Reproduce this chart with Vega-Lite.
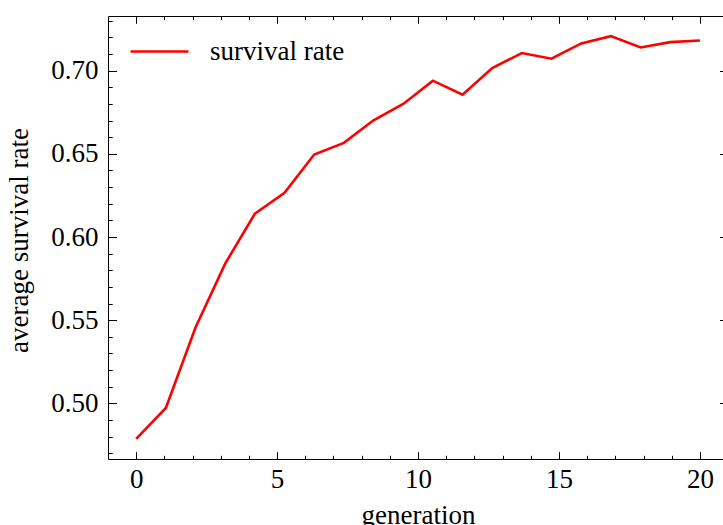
{
  "$schema": "https://vega.github.io/schema/vega-lite/v6.json",
  "width": 615,
  "height": 443,
  "autosize": {"type": "none"},
  "padding": {"left": 108, "top": 16, "right": 0, "bottom": 66},
  "background": "white",
  "config": {
    "view": {"stroke": null},
    "font": "Liberation Serif",
    "axis": {
      "labelFont": "Liberation Serif",
      "titleFont": "Liberation Serif",
      "labelFontSize": 27,
      "titleFontSize": 27,
      "labelColor": "black",
      "titleColor": "black",
      "titleFontWeight": "normal",
      "grid": false,
      "tickColor": "black",
      "domainColor": "black",
      "tickWidth": 1,
      "domainWidth": 1
    },
    "legend": {
      "labelFont": "Liberation Serif",
      "labelFontSize": 27,
      "labelColor": "black"
    }
  },
  "data": {
    "values": [
      {"generation": 0, "rate": 0.4786},
      {"generation": 1.0526, "rate": 0.4972},
      {"generation": 2.1053, "rate": 0.5456},
      {"generation": 3.1579, "rate": 0.584},
      {"generation": 4.2105, "rate": 0.614},
      {"generation": 5.2632, "rate": 0.6266},
      {"generation": 6.3158, "rate": 0.6496},
      {"generation": 7.3684, "rate": 0.6566},
      {"generation": 8.4211, "rate": 0.6702},
      {"generation": 9.4737, "rate": 0.68},
      {"generation": 10.5263, "rate": 0.694},
      {"generation": 11.5789, "rate": 0.6856},
      {"generation": 12.6316, "rate": 0.7016},
      {"generation": 13.6842, "rate": 0.7106},
      {"generation": 14.7368, "rate": 0.7072},
      {"generation": 15.7895, "rate": 0.7164},
      {"generation": 16.8421, "rate": 0.7208},
      {"generation": 17.8947, "rate": 0.714},
      {"generation": 18.9474, "rate": 0.7172},
      {"generation": 20, "rate": 0.7182}
    ]
  },
  "resolve": {"axis": {"x": "independent", "y": "independent"}},
  "layer": [
    {
      "mark": {"type": "line", "strokeWidth": 2.6},
      "encoding": {
        "x": {
          "field": "generation", "type": "quantitative",
          "scale": {"domain": [-1, 20.82], "nice": false, "zero": false},
          "axis": {
            "orient": "bottom", "values": [0, 5, 10, 15, 20], "format": "d",
            "ticks": false, "domain": false, "labelPadding": 28, "labelBaseline": "alphabetic",
            "title": "generation", "titleX": 310, "titleY": 64, "titleAlign": "center",
            "titleBaseline": "alphabetic", "titleAnchor": null
          }
        },
        "y": {
          "field": "rate", "type": "quantitative",
          "scale": {"domain": [0.4665, 0.7329], "nice": false, "zero": false},
          "axis": {
            "orient": "left", "values": [0.5, 0.55, 0.6, 0.65, 0.7], "format": ".2f",
            "ticks": false, "domain": false, "labelPadding": 10, "labelBaseline": "middle",
            "title": "average survival rate", "titleX": -81, "titleY": 224, "titleAngle": 270,
            "titleAlign": "center", "titleBaseline": "alphabetic"
          }
        },
        "color": {
          "datum": "survival rate",
          "scale": {"range": ["#ff0000"]},
          "legend": {
            "title": null, "orient": "none", "legendX": 21, "legendY": 5,
            "symbolType": "stroke", "symbolSize": 3364, "symbolStrokeWidth": 2.6,
            "labelOffset": 20, "padding": 0
          }
        }
      }
    },
    {
      "mark": {"type": "line", "opacity": 0},
      "encoding": {
        "x": {
          "field": "generation", "type": "quantitative",
          "axis": {"orient": "bottom", "values": [0, 5, 10, 15, 20], "labels": false, "tickSize": -7.3, "domain": true, "title": null}
        },
        "y": {
          "field": "rate", "type": "quantitative",
          "axis": {"orient": "left", "values": [0.5, 0.55, 0.6, 0.65, 0.7], "labels": false, "tickSize": -8.5, "domain": true, "title": null}
        }
      }
    },
    {
      "mark": {"type": "line", "opacity": 0},
      "encoding": {
        "x": {
          "field": "generation", "type": "quantitative",
          "axis": {"orient": "top", "values": [0, 5, 10, 15, 20], "labels": false, "tickSize": -7.3, "domain": true, "title": null}
        },
        "y": {
          "field": "rate", "type": "quantitative",
          "axis": {"orient": "right", "offset": 5, "values": [0.5, 0.55, 0.6, 0.65, 0.7], "labels": false, "tickSize": -8.5, "domain": true, "title": null}
        }
      }
    },
    {
      "mark": {"type": "line", "opacity": 0},
      "encoding": {
        "x": {
          "field": "generation", "type": "quantitative",
          "axis": {"orient": "bottom", "values": [1, 2, 3, 4, 6, 7, 8, 9, 11, 12, 13, 14, 16, 17, 18, 19], "labels": false, "tickSize": -3.7, "domain": false, "title": null}
        },
        "y": {
          "field": "rate", "type": "quantitative",
          "axis": {"orient": "left", "values": [0.47, 0.48, 0.49, 0.51, 0.52, 0.53, 0.54, 0.56, 0.57, 0.58, 0.59, 0.61, 0.62, 0.63, 0.64, 0.66, 0.67, 0.68, 0.69, 0.71, 0.72, 0.73], "labels": false, "tickSize": -4.2, "domain": false, "title": null}
        }
      }
    },
    {
      "mark": {"type": "line", "opacity": 0},
      "encoding": {
        "x": {
          "field": "generation", "type": "quantitative",
          "axis": {"orient": "top", "values": [1, 2, 3, 4, 6, 7, 8, 9, 11, 12, 13, 14, 16, 17, 18, 19], "labels": false, "tickSize": -3.7, "domain": false, "title": null}
        },
        "y": {
          "field": "rate", "type": "quantitative",
          "axis": {"orient": "right", "offset": 5, "values": [0.47, 0.48, 0.49, 0.51, 0.52, 0.53, 0.54, 0.56, 0.57, 0.58, 0.59, 0.61, 0.62, 0.63, 0.64, 0.66, 0.67, 0.68, 0.69, 0.71, 0.72, 0.73], "labels": false, "tickSize": -4.2, "domain": false, "title": null}
        }
      }
    }
  ]
}
